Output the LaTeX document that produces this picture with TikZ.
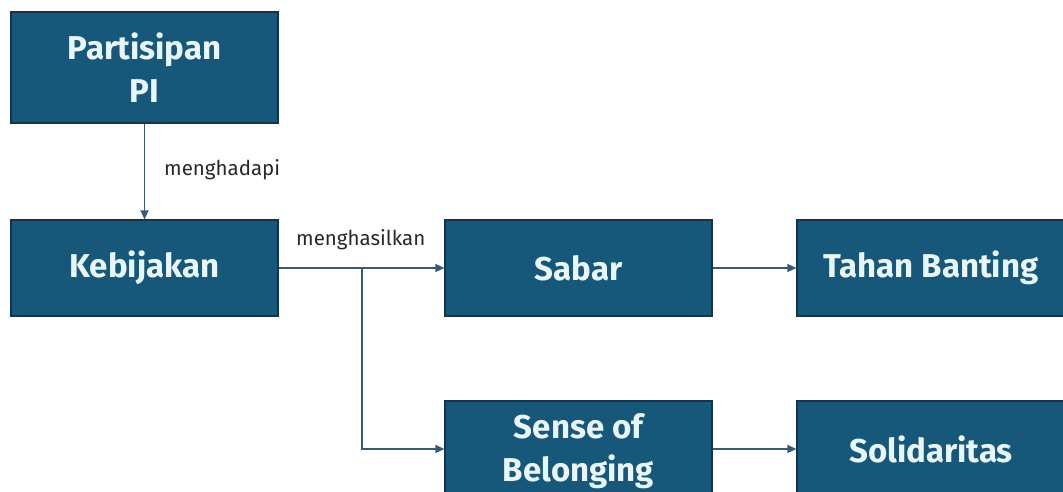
\documentclass[tikz,border=0pt]{standalone}
\usepackage{fontspec}
\setmainfont{Fira Sans}
\usetikzlibrary{arrows.meta}
\definecolor{boxfill}{RGB}{23,88,122}
\definecolor{boxline}{RGB}{22,52,70}
\definecolor{boxtext}{RGB}{232,246,250}
\definecolor{linkcol}{RGB}{58,90,112}
\definecolor{labcol}{RGB}{40,40,40}
\tikzset{
  box/.style={draw=boxline, line width=1.2pt, fill=boxfill, text=boxtext,
    font=\fontsize{33}{43}\selectfont\bfseries, align=center,
    minimum width=267pt, minimum height=96pt, inner sep=0pt},
  link/.style={draw=linkcol, line width=1.5pt, -{Triangle[length=9pt,width=8pt]}},
  linklab/.style={font=\fontsize{20.5}{24}\selectfont, text=labcol, inner sep=1pt, anchor=west}
}
\begin{document}
\begin{tikzpicture}[x=1pt,y=-1pt]
\useasboundingbox (0,0) rectangle (1063,492);
\clip (0,0) rectangle (1063,492);
% boxes
\node[box, minimum height=111pt] (part) at (144.5,67.5) {Partisipan\\PI};
\node[box] (kebi) at (144.5,268) {Kebijakan};
\node[box] (sabar) at (578.5,268) {Sabar};
\node[box, minimum width=268pt] (tahan) at (931,268) {Tahan Banting};
\node[box, minimum height=100pt] (sense) at (578.5,451) {Sense of\\Belonging};
\node[box, minimum width=268pt] (soli) at (931,449) {Solidaritas};
% connectors
\draw[link] (part.south) -- (kebi.north);
\node[linklab] (lab1) at (163,170) {menghadapi};
\coordinate (fork) at (362,268);
\coordinate (bend) at (362,449);
\draw[link] (kebi.east) -- (sabar.west);
\draw[link] (fork) -- (bend) -- (sense.west |- bend);
\node[linklab] (lab2) at (295,240) {menghasilkan};
\draw[link] (sabar.east) -- (tahan.west);
\draw[link] (sense.east |- bend) -- (soli.west |- bend);
\end{tikzpicture}
\end{document}
